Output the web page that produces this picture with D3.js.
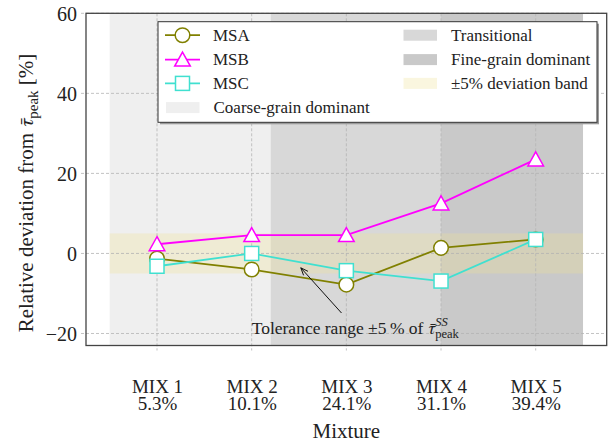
<!DOCTYPE html>
<html>
<head>
<meta charset="utf-8">
<script src="https://cdn.jsdelivr.net/npm/d3@7"></script>
</head>
<body style="margin:0;padding:0;background:#fff">
<svg id="chart" width="609" height="448"></svg>
<script>
// Mixtures on the x axis and their fine-grain content
const mixtures = ["MIX 1", "MIX 2", "MIX 3", "MIX 4", "MIX 5"];
const fineContent = ["5.3%", "10.1%", "24.1%", "31.1%", "39.4%"];

// Relative deviation from the mean peak stress [%]
const msaValues = [-1.3, -4.0, -7.8, 1.4, 3.5];
const msbValues = [2.3, 4.6, 4.6, 12.5, 23.5];
const mscValues = [-3.2, 0.0, -4.3, -6.9, 3.5];

const yTicks = [-20, 0, 20, 40, 60];

// Grain-structure regimes, in mixture-index units
const regimeNames = ["Coarse-grain dominant", "Transitional", "Fine-grain dominant"];
const regimeStarts = [-0.5, 1.2, 3.0];
const regimeEnds = [1.2, 3.0, 4.5];
const regimeColors = ["#efefef", "#d8d8d8", "#c9c9c9"];

// Tolerance band limits [%]
const bandLimits = [-5, 5];

const series = [
  { name: "MSA", values: msaValues, color: "#808000", marker: "circle" },
  { name: "MSB", values: msbValues, color: "#ff00ff", marker: "triangle" },
  { name: "MSC", values: mscValues, color: "#40e0d0", marker: "square" }
];

const SERIF = '"Liberation Serif"';
const TAU_FONT = '"FreeSerif"';

const svg = d3.select("#chart").style("font-family", SERIF);
const plotL = 86, plotR = 606.7, plotT = 13.3, plotB = 345.5;

const x = d3.scaleLinear().domain([-0.75, 4.75]).range([plotL, plotR]);
const y = d3.scaleLinear().domain([-23, 60]).range([plotB, plotT]);

// Regime spans
svg.append("g").selectAll("rect").data(regimeNames).join("rect")
  .attr("x", (d, i) => x(regimeStarts[i]))
  .attr("width", (d, i) => x(regimeEnds[i]) - x(regimeStarts[i]))
  .attr("y", plotT).attr("height", plotB - plotT)
  .attr("fill", (d, i) => regimeColors[i]);

// Tolerance band
const bandFill = "rgb(240,226,150)";
svg.append("rect")
  .attr("x", x(regimeStarts[0])).attr("width", x(regimeEnds[2]) - x(regimeStarts[0]))
  .attr("y", y(bandLimits[1])).attr("height", y(bandLimits[0]) - y(bandLimits[1]))
  .attr("fill", bandFill).attr("fill-opacity", 0.3);

// Grid
const grid = svg.append("g").attr("stroke", "#b4b4b4").attr("stroke-width", 0.8)
  .attr("stroke-dasharray", "3,2");
grid.selectAll("line.h").data(yTicks).join("line").attr("class", "h")
  .attr("x1", plotL - 5).attr("x2", plotR).attr("y1", d => y(d)).attr("y2", d => y(d));
grid.selectAll("line.v").data(mixtures).join("line").attr("class", "v")
  .attr("y1", plotT).attr("y2", plotB + 5).attr("x1", (d, i) => x(i)).attr("x2", (d, i) => x(i));

// Axes with labels
const yAxis = d3.axisLeft(y).tickValues(yTicks).tickSize(0).tickPadding(9)
  .tickFormat(d => d < 0 ? "\u2212" + Math.abs(d) : d);
const gy = svg.append("g").attr("transform", `translate(${plotL},0)`).call(yAxis);
gy.select(".domain").remove();
gy.selectAll("text").attr("font-size", 20).attr("dy", "0.34em");

const xAxis = d3.axisBottom(x).tickValues(d3.range(mixtures.length)).tickSize(0).tickFormat(() => "");
const gx = svg.append("g").attr("transform", `translate(0,${plotB})`).call(xAxis);
gx.select(".domain").remove();
gx.selectAll(".tick text").remove();
gx.selectAll(".tick").each(function(d) {
  const t = d3.select(this).append("text").attr("text-anchor", "middle").attr("font-size", 19);
  t.append("tspan").attr("x", 0).attr("y", 47.5).text(mixtures[d]);
  t.append("tspan").attr("x", 0).attr("y", 64.5).text(fineContent[d]);
});
svg.selectAll("g").attr("font-family", null).attr("font-size", null);

svg.append("text").attr("x", (plotL + plotR) / 2).attr("y", 438)
  .attr("text-anchor", "middle").attr("font-size", 21).text("Mixture");

const yl = svg.append("text").attr("transform", "translate(33,193) rotate(-90)")
  .attr("text-anchor", "middle").attr("font-size", 21);
yl.append("tspan").text("Relative deviation from ");
yl.append("tspan").attr("class", "tau").attr("font-style", "italic").text("\u03C4\u0304");
yl.append("tspan").attr("font-size", 15).attr("dy", 5).text("peak");
yl.append("tspan").attr("dy", -5).text(" [%]");

// Series lines and markers
const line = d3.line().x((d, i) => x(i)).y(d => y(d));
const trianglePath = "M0,-7.5L7.8,6.5L-7.8,6.5Z";

function drawMarker(g, kind, color) {
  if (kind === "circle") {
    g.append("circle").attr("r", 7.3);
  } else if (kind === "square") {
    g.append("rect").attr("x", -7).attr("y", -7).attr("width", 14).attr("height", 14);
  } else {
    g.append("path").attr("d", trianglePath);
  }
  g.selectAll("*").attr("fill", "#fff").attr("stroke", color).attr("stroke-width", 1.5);
}

series.forEach(s => {
  svg.append("path").datum(s.values).attr("d", line)
    .attr("fill", "none").attr("stroke", s.color).attr("stroke-width", 1.8);
  s.values.forEach((v, i) => {
    const g = svg.append("g").attr("transform", `translate(${x(i)},${y(v)})`);
    drawMarker(g, s.marker, s.color);
  });
});

// Frame
svg.append("rect").attr("x", plotL).attr("y", plotT)
  .attr("width", plotR - plotL).attr("height", plotB - plotT)
  .attr("fill", "none").attr("stroke", "#444").attr("stroke-width", 1.3);

// Annotation of the tolerance band
const arrowFrom = [341.5, 313], arrowTo = [300.8, 267.8];
svg.append("line").attr("x1", arrowFrom[0]).attr("y1", arrowFrom[1])
  .attr("x2", arrowTo[0]).attr("y2", arrowTo[1]).attr("stroke", "#111").attr("stroke-width", 1);
{
  const ang = Math.atan2(arrowFrom[1] - arrowTo[1], arrowFrom[0] - arrowTo[0]);
  const len = 8, spread = 0.38;
  const p1 = [arrowTo[0] + len * Math.cos(ang + spread), arrowTo[1] + len * Math.sin(ang + spread)];
  const p2 = [arrowTo[0] + len * Math.cos(ang - spread), arrowTo[1] + len * Math.sin(ang - spread)];
  svg.append("path").attr("d", `M${p1}L${arrowTo}L${p2}`)
    .attr("fill", "none").attr("stroke", "#111").attr("stroke-width", 1);
}
const ann = svg.append("text").attr("x", 251.7).attr("y", 333.5).attr("font-size", 17.5);
ann.append("tspan").text("Tolerance range \u00B15\u2009% of ");
ann.append("tspan").attr("class", "tau").attr("font-style", "italic").text("\u03C4\u0304");
const sup = ann.append("tspan").attr("font-style", "italic").attr("font-size", 12.5)
  .attr("dy", -8).text("SS");

// Legend
const lg = svg.append("g");
const lgBox = { x: 158, y: 21.7, w: 439, h: 100.6 };
lg.append("rect").attr("x", lgBox.x + 2).attr("y", lgBox.y + 2)
  .attr("width", lgBox.w).attr("height", lgBox.h).attr("fill", "#9a9a9a");
lg.append("rect").attr("x", lgBox.x).attr("y", lgBox.y)
  .attr("width", lgBox.w).attr("height", lgBox.h)
  .attr("fill", "#fff").attr("stroke", "#333").attr("stroke-width", 1);

const rowY = [35.2, 59.6, 83.4, 107.6];
series.forEach((s, i) => {
  lg.append("line").attr("x1", 165).attr("x2", 200).attr("y1", rowY[i]).attr("y2", rowY[i])
    .attr("stroke", s.color).attr("stroke-width", 1.8);
  drawMarker(lg.append("g").attr("transform", `translate(182.5,${rowY[i]})`), s.marker, s.color);
  lg.append("text").attr("x", 213).attr("y", rowY[i] + 5.8).attr("font-size", 17).text(s.name);
});

const patchItems = [
  { label: regimeNames[0], color: regimeColors[0], op: 1, px: 166, row: 3 },
  { label: regimeNames[1], color: regimeColors[1], op: 1, px: 403.5, row: 0 },
  { label: regimeNames[2], color: regimeColors[2], op: 1, px: 403.5, row: 1 },
  { label: "\u00B15% deviation band", color: bandFill, op: 0.3, px: 403.5, row: 2 }
];
patchItems.forEach(p => {
  lg.append("rect").attr("x", p.px).attr("y", rowY[p.row] - 5.5).attr("width", 33.5).attr("height", 11)
    .attr("fill", p.color).attr("fill-opacity", p.op);
  lg.append("text").attr("x", p.px + 47.5).attr("y", rowY[p.row] + 5.8).attr("font-size", 17).text(p.label);
});

// Fonts applied inline on every text
svg.selectAll("text").style("font-family", SERIF).style("fill", "#222");
svg.selectAll("tspan.tau").style("font-family", TAU_FONT);

// Stacked super/subscript after the annotation's tau
const supW = sup.node().getComputedTextLength();
ann.append("tspan").attr("font-size", 12.5).attr("dx", -supW).attr("dy", 12.5).text("peak");
</script>
</body>
</html>
